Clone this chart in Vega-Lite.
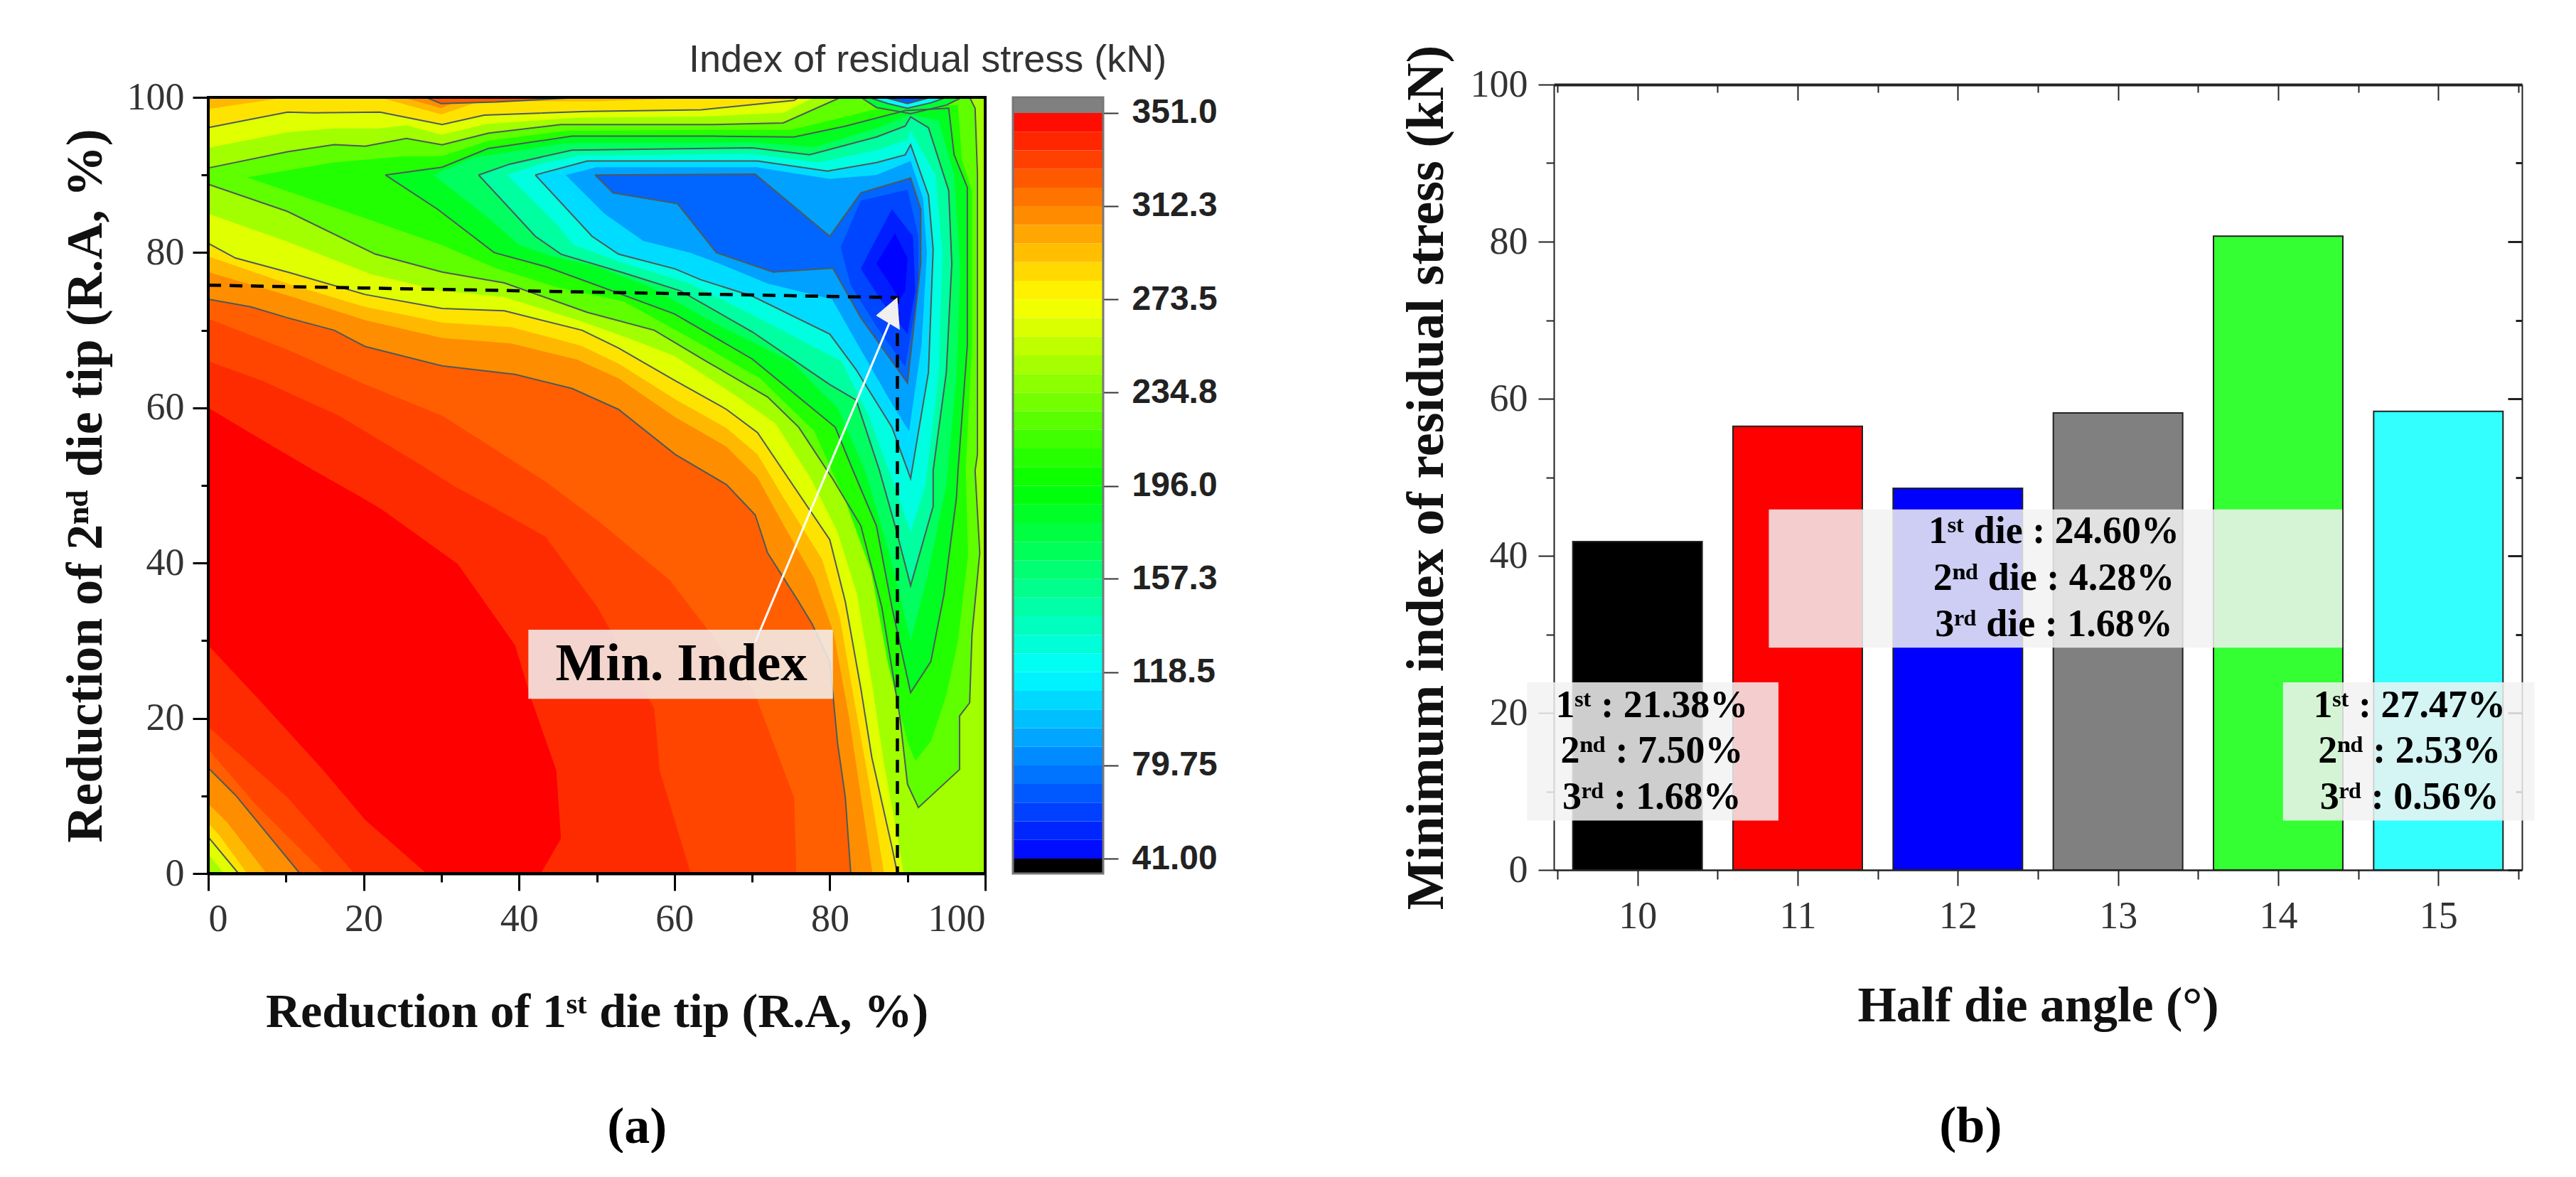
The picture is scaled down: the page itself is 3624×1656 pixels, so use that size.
{"$schema":"https://vega.github.io/schema/vega-lite/v6.json","background":"white","padding":{"left":83,"top":57,"right":0,"bottom":0},"bounds":"flush","spacing":39,
"config":{"view":{"stroke":null},"axis":{"grid":false,"labelFont":"Liberation Serif","titleFont":"Liberation Serif","labelColor":"#333333","titleColor":"#111111"}},
"datasets":{"poly":[
{"p":1,"v":351,"x":0,"y":0},{"p":1,"v":351,"x":100,"y":0},{"p":1,"v":351,"x":100,"y":100},{"p":1,"v":351,"x":0,"y":100},
{"p":2,"v":338,"x":0,"y":60},{"p":2,"v":338,"x":5,"y":57},{"p":2,"v":338,"x":13.5,"y":52},{"p":2,"v":338,"x":18.8,"y":49},{"p":2,"v":338,"x":22.2,"y":47},{"p":2,"v":338,"x":32.1,"y":39.9},{"p":2,"v":338,"x":39.5,"y":29.4},{"p":2,"v":338,"x":41.5,"y":22.7},{"p":2,"v":338,"x":44.8,"y":13.3},{"p":2,"v":338,"x":45.4,"y":4.5},{"p":2,"v":338,"x":42.8,"y":0},{"p":2,"v":338,"x":100,"y":0},{"p":2,"v":338,"x":100,"y":100},{"p":2,"v":338,"x":0,"y":100},
{"p":3,"v":338,"x":0,"y":29.4},{"p":3,"v":338,"x":6.9,"y":22},{"p":3,"v":338,"x":14.8,"y":13.3},{"p":3,"v":338,"x":20.2,"y":6.9},{"p":3,"v":338,"x":28.1,"y":0},{"p":3,"v":338,"x":0,"y":0},
{"p":4,"v":330,"x":0,"y":66},{"p":4,"v":330,"x":6.9,"y":63.5},{"p":4,"v":330,"x":16.8,"y":59},{"p":4,"v":330,"x":26.8,"y":53},{"p":4,"v":330,"x":31.5,"y":50},{"p":4,"v":330,"x":36.1,"y":47.5},{"p":4,"v":330,"x":43.4,"y":43.4},{"p":4,"v":330,"x":50.1,"y":34.3},{"p":4,"v":330,"x":57.4,"y":21.3},{"p":4,"v":330,"x":58.1,"y":13.3},{"p":4,"v":330,"x":62.1,"y":0},{"p":4,"v":330,"x":100,"y":0},{"p":4,"v":330,"x":100,"y":100},{"p":4,"v":330,"x":0,"y":100},
{"p":5,"v":330,"x":0,"y":18.9},{"p":5,"v":330,"x":10.2,"y":9.8},{"p":5,"v":330,"x":18.8,"y":0},{"p":5,"v":330,"x":0,"y":0},
{"p":6,"v":322,"x":0,"y":71.5},{"p":6,"v":322,"x":10.2,"y":67.5},{"p":6,"v":322,"x":20.2,"y":63},{"p":6,"v":322,"x":30.1,"y":59},{"p":6,"v":322,"x":39.5,"y":53},{"p":6,"v":322,"x":43.4,"y":50.5},{"p":6,"v":322,"x":50.1,"y":45.5},{"p":6,"v":322,"x":59.4,"y":37.8},{"p":6,"v":322,"x":70.1,"y":23.8},{"p":6,"v":322,"x":75.4,"y":9.8},{"p":6,"v":322,"x":75.7,"y":0},{"p":6,"v":322,"x":100,"y":0},{"p":6,"v":322,"x":100,"y":100},{"p":6,"v":322,"x":0,"y":100},
{"p":7,"v":322,"x":0,"y":16},{"p":7,"v":322,"x":6,"y":9},{"p":7,"v":322,"x":15,"y":0},{"p":7,"v":322,"x":0,"y":0},
{"p":8,"v":308,"x":0,"y":74},{"p":8,"v":308,"x":5.5,"y":73},{"p":8,"v":308,"x":10.2,"y":71.6},{"p":8,"v":308,"x":16.2,"y":70},{"p":8,"v":308,"x":20.2,"y":67.9},{"p":8,"v":308,"x":30.1,"y":65.4},{"p":8,"v":308,"x":39.5,"y":64.3},{"p":8,"v":308,"x":46.8,"y":62.5},{"p":8,"v":308,"x":52.8,"y":59.8},{"p":8,"v":308,"x":60.1,"y":54},{"p":8,"v":308,"x":66.7,"y":50.1},{"p":8,"v":308,"x":70.4,"y":46.2},{"p":8,"v":308,"x":72,"y":41.3},{"p":8,"v":308,"x":76,"y":35},{"p":8,"v":308,"x":77.7,"y":32.2},{"p":8,"v":308,"x":80,"y":27.3},{"p":8,"v":308,"x":81,"y":16.8},{"p":8,"v":308,"x":82,"y":9.8},{"p":8,"v":308,"x":82.7,"y":0},{"p":8,"v":308,"x":100,"y":0},{"p":8,"v":308,"x":100,"y":100},{"p":8,"v":308,"x":0,"y":100},{"p":8,"v":308,"x":0,"y":74},
{"p":9,"v":308,"x":0,"y":13.6},{"p":9,"v":308,"x":3.5,"y":10.1},{"p":9,"v":308,"x":11.8,"y":0},{"p":9,"v":308,"x":0,"y":0},{"p":9,"v":308,"x":0,"y":13.6},
{"p":10,"v":295,"x":0,"y":77.5},{"p":10,"v":295,"x":5,"y":76},{"p":10,"v":295,"x":10.2,"y":74.5},{"p":10,"v":295,"x":20.2,"y":71.3},{"p":10,"v":295,"x":30.1,"y":69},{"p":10,"v":295,"x":39,"y":68.3},{"p":10,"v":295,"x":47.5,"y":66.2},{"p":10,"v":295,"x":52.8,"y":63.8},{"p":10,"v":295,"x":60.1,"y":58.8},{"p":10,"v":295,"x":66.7,"y":55},{"p":10,"v":295,"x":70.7,"y":51},{"p":10,"v":295,"x":74,"y":45},{"p":10,"v":295,"x":78,"y":38},{"p":10,"v":295,"x":80.5,"y":31},{"p":10,"v":295,"x":82.5,"y":20},{"p":10,"v":295,"x":84,"y":10},{"p":10,"v":295,"x":85.5,"y":0},{"p":10,"v":295,"x":100,"y":0},{"p":10,"v":295,"x":100,"y":100},{"p":10,"v":295,"x":33,"y":100},{"p":10,"v":295,"x":30,"y":98.6},{"p":10,"v":295,"x":25,"y":100},{"p":10,"v":295,"x":0,"y":100},
{"p":11,"v":295,"x":0,"y":9},{"p":11,"v":295,"x":2.5,"y":6.5},{"p":11,"v":295,"x":7.5,"y":0},{"p":11,"v":295,"x":0,"y":0},
{"p":12,"v":282,"x":0,"y":98.5},{"p":12,"v":282,"x":10,"y":100},{"p":12,"v":282,"x":22,"y":100},{"p":12,"v":282,"x":30,"y":97.8},{"p":12,"v":282,"x":35,"y":99.5},{"p":12,"v":282,"x":50,"y":99.5},{"p":12,"v":282,"x":65,"y":100},{"p":12,"v":282,"x":100,"y":100},{"p":12,"v":282,"x":100,"y":0},{"p":12,"v":282,"x":87,"y":0},{"p":12,"v":282,"x":85,"y":12},{"p":12,"v":282,"x":83.2,"y":22},{"p":12,"v":282,"x":81.3,"y":33},{"p":12,"v":282,"x":79,"y":40.5},{"p":12,"v":282,"x":74,"y":48.5},{"p":12,"v":282,"x":70.7,"y":54},{"p":12,"v":282,"x":66.7,"y":57.4},{"p":12,"v":282,"x":60.1,"y":61.1},{"p":12,"v":282,"x":52.8,"y":65.7},{"p":12,"v":282,"x":48,"y":68},{"p":12,"v":282,"x":39,"y":70.4},{"p":12,"v":282,"x":30.1,"y":71},{"p":12,"v":282,"x":20.2,"y":73},{"p":12,"v":282,"x":10.2,"y":76},{"p":12,"v":282,"x":5,"y":77.8},{"p":12,"v":282,"x":0,"y":79.5},
{"p":13,"v":282,"x":0,"y":6.5},{"p":13,"v":282,"x":1.5,"y":4.8},{"p":13,"v":282,"x":5,"y":0},{"p":13,"v":282,"x":0,"y":0},
{"p":14,"v":264,"x":0,"y":96.1},{"p":14,"v":264,"x":10.2,"y":98.1},{"p":14,"v":264,"x":13.5,"y":98},{"p":14,"v":264,"x":22.1,"y":98.1},{"p":14,"v":264,"x":30.1,"y":96.5},{"p":14,"v":264,"x":35.5,"y":97.7},{"p":14,"v":264,"x":48.8,"y":98.2},{"p":14,"v":264,"x":63.4,"y":98.4},{"p":14,"v":264,"x":75.4,"y":99.6},{"p":14,"v":264,"x":76,"y":100},{"p":14,"v":264,"x":100,"y":100},{"p":14,"v":264,"x":100,"y":0},{"p":14,"v":264,"x":88.7,"y":0},{"p":14,"v":264,"x":88,"y":3.4},{"p":14,"v":264,"x":85.4,"y":15},{"p":14,"v":264,"x":84,"y":23.8},{"p":14,"v":264,"x":82,"y":35},{"p":14,"v":264,"x":80,"y":43},{"p":14,"v":264,"x":74,"y":51.9},{"p":14,"v":264,"x":70.7,"y":56.8},{"p":14,"v":264,"x":66.7,"y":59.8},{"p":14,"v":264,"x":60.1,"y":63.5},{"p":14,"v":264,"x":52.8,"y":67.7},{"p":14,"v":264,"x":48.1,"y":70},{"p":14,"v":264,"x":38.1,"y":72.5},{"p":14,"v":264,"x":30.1,"y":72.8},{"p":14,"v":264,"x":20.2,"y":74.6},{"p":14,"v":264,"x":10.2,"y":77.5},{"p":14,"v":264,"x":3.5,"y":79.3},{"p":14,"v":264,"x":0,"y":81.2},{"p":14,"v":264,"x":0,"y":96.1},
{"p":15,"v":264,"x":0,"y":4.7},{"p":15,"v":264,"x":3.9,"y":0},{"p":15,"v":264,"x":0,"y":0},{"p":15,"v":264,"x":0,"y":4.7},
{"p":16,"v":245,"x":0,"y":93.5},{"p":16,"v":245,"x":10.2,"y":95.5},{"p":16,"v":245,"x":16,"y":96},{"p":16,"v":245,"x":22,"y":96},{"p":16,"v":245,"x":25.5,"y":96.4},{"p":16,"v":245,"x":30,"y":95.2},{"p":16,"v":245,"x":36,"y":96.6},{"p":16,"v":245,"x":48,"y":97.4},{"p":16,"v":245,"x":63,"y":97.5},{"p":16,"v":245,"x":74,"y":98},{"p":16,"v":245,"x":78,"y":100},{"p":16,"v":245,"x":100,"y":100},{"p":16,"v":245,"x":100,"y":0},{"p":16,"v":245,"x":89.5,"y":0},{"p":16,"v":245,"x":88.5,"y":6},{"p":16,"v":245,"x":87,"y":14},{"p":16,"v":245,"x":85.5,"y":24},{"p":16,"v":245,"x":83.5,"y":36},{"p":16,"v":245,"x":81,"y":44},{"p":16,"v":245,"x":77.5,"y":51},{"p":16,"v":245,"x":73,"y":58},{"p":16,"v":245,"x":68,"y":61.5},{"p":16,"v":245,"x":60,"y":66.7},{"p":16,"v":245,"x":54,"y":69},{"p":16,"v":245,"x":48.5,"y":71},{"p":16,"v":245,"x":38,"y":74.3},{"p":16,"v":245,"x":30,"y":75.1},{"p":16,"v":245,"x":21,"y":77.2},{"p":16,"v":245,"x":10.2,"y":81.4},{"p":16,"v":245,"x":0,"y":85},
{"p":17,"v":245,"x":0,"y":2.5},{"p":17,"v":245,"x":2,"y":0},{"p":17,"v":245,"x":0,"y":0},
{"p":18,"v":225,"x":0,"y":90.9},{"p":18,"v":225,"x":10.2,"y":93},{"p":18,"v":225,"x":16.2,"y":93.9},{"p":18,"v":225,"x":20.2,"y":93.7},{"p":18,"v":225,"x":25.5,"y":94.7},{"p":18,"v":225,"x":30.1,"y":93.9},{"p":18,"v":225,"x":36.1,"y":95.4},{"p":18,"v":225,"x":45.4,"y":96.5},{"p":18,"v":225,"x":54.9,"y":96.5},{"p":18,"v":225,"x":65,"y":96.5},{"p":18,"v":225,"x":74,"y":96.7},{"p":18,"v":225,"x":81.4,"y":100},{"p":18,"v":225,"x":98,"y":100},{"p":18,"v":225,"x":98.7,"y":98.6},{"p":18,"v":225,"x":99,"y":90.2},{"p":18,"v":225,"x":99,"y":54},{"p":18,"v":225,"x":98.7,"y":51.9},{"p":18,"v":225,"x":99.3,"y":41.3},{"p":18,"v":225,"x":98.3,"y":30.8},{"p":18,"v":225,"x":98,"y":22},{"p":18,"v":225,"x":96.7,"y":20.3},{"p":18,"v":225,"x":96.7,"y":13.4},{"p":18,"v":225,"x":91.4,"y":8.5},{"p":18,"v":225,"x":90,"y":11.5},{"p":18,"v":225,"x":89,"y":20.3},{"p":18,"v":225,"x":86.7,"y":34.3},{"p":18,"v":225,"x":84,"y":44.8},{"p":18,"v":225,"x":80.4,"y":50.8},{"p":18,"v":225,"x":76,"y":57.5},{"p":18,"v":225,"x":72,"y":61.4},{"p":18,"v":225,"x":64.1,"y":66},{"p":18,"v":225,"x":57.4,"y":70},{"p":18,"v":225,"x":48.8,"y":72.3},{"p":18,"v":225,"x":38.1,"y":76.1},{"p":18,"v":225,"x":30.1,"y":77.5},{"p":18,"v":225,"x":21.5,"y":79.8},{"p":18,"v":225,"x":10.2,"y":85.3},{"p":18,"v":225,"x":0,"y":88.8},{"p":18,"v":225,"x":0,"y":90.9},
{"p":19,"v":206,"x":5,"y":89.7},{"p":19,"v":206,"x":16,"y":91.6},{"p":19,"v":206,"x":25,"y":92.4},{"p":19,"v":206,"x":30,"y":92.4},{"p":19,"v":206,"x":36,"y":94.4},{"p":19,"v":206,"x":46,"y":95.7},{"p":19,"v":206,"x":65,"y":95.8},{"p":19,"v":206,"x":75,"y":95.8},{"p":19,"v":206,"x":82,"y":97.5},{"p":19,"v":206,"x":88,"y":99},{"p":19,"v":206,"x":96.5,"y":99},{"p":19,"v":206,"x":97,"y":92},{"p":19,"v":206,"x":98.3,"y":88},{"p":19,"v":206,"x":98.3,"y":68},{"p":19,"v":206,"x":97.5,"y":52},{"p":19,"v":206,"x":97.8,"y":41},{"p":19,"v":206,"x":96.5,"y":30},{"p":19,"v":206,"x":95,"y":23},{"p":19,"v":206,"x":93,"y":17},{"p":19,"v":206,"x":91,"y":14.5},{"p":19,"v":206,"x":90,"y":17},{"p":19,"v":206,"x":87.5,"y":27},{"p":19,"v":206,"x":85.3,"y":39},{"p":19,"v":206,"x":82,"y":48},{"p":19,"v":206,"x":78,"y":57},{"p":19,"v":206,"x":71,"y":63.8},{"p":19,"v":206,"x":62,"y":69},{"p":19,"v":206,"x":53.5,"y":73.7},{"p":19,"v":206,"x":45,"y":75.5},{"p":19,"v":206,"x":37,"y":78},{"p":19,"v":206,"x":30,"y":81},{"p":19,"v":206,"x":20,"y":84.5},{"p":19,"v":206,"x":12,"y":87.3},
{"p":20,"v":186,"x":22.8,"y":90},{"p":20,"v":186,"x":30.1,"y":91},{"p":20,"v":186,"x":36,"y":93.4},{"p":20,"v":186,"x":46.8,"y":95},{"p":20,"v":186,"x":65,"y":95},{"p":20,"v":186,"x":75.4,"y":94.9},{"p":20,"v":186,"x":82,"y":96.3},{"p":20,"v":186,"x":89.7,"y":98.3},{"p":20,"v":186,"x":95.3,"y":98.6},{"p":20,"v":186,"x":96,"y":92.6},{"p":20,"v":186,"x":97.7,"y":88.4},{"p":20,"v":186,"x":97.7,"y":68},{"p":20,"v":186,"x":96.5,"y":51.9},{"p":20,"v":186,"x":96.3,"y":48.4},{"p":20,"v":186,"x":94.7,"y":36},{"p":20,"v":186,"x":93,"y":27.3},{"p":20,"v":186,"x":90.4,"y":23.3},{"p":20,"v":186,"x":88,"y":34.3},{"p":20,"v":186,"x":86,"y":44.8},{"p":20,"v":186,"x":83,"y":51.9},{"p":20,"v":186,"x":80.7,"y":57.5},{"p":20,"v":186,"x":70,"y":66.3},{"p":20,"v":186,"x":60,"y":72.1},{"p":20,"v":186,"x":50,"y":75.8},{"p":20,"v":186,"x":43.4,"y":78.2},{"p":20,"v":186,"x":36.8,"y":80},{"p":20,"v":186,"x":29.5,"y":85.6},{"p":20,"v":186,"x":22.8,"y":90},
{"p":21,"v":167,"x":29,"y":90},{"p":21,"v":167,"x":34,"y":92.2},{"p":21,"v":167,"x":46,"y":94.1},{"p":21,"v":167,"x":70,"y":94.2},{"p":21,"v":167,"x":78,"y":93.6},{"p":21,"v":167,"x":86,"y":96},{"p":21,"v":167,"x":90.4,"y":97.8},{"p":21,"v":167,"x":94,"y":97},{"p":21,"v":167,"x":96,"y":90},{"p":21,"v":167,"x":96.8,"y":78},{"p":21,"v":167,"x":96.3,"y":64},{"p":21,"v":167,"x":95,"y":50},{"p":21,"v":167,"x":92.5,"y":38},{"p":21,"v":167,"x":90.4,"y":30},{"p":21,"v":167,"x":88.5,"y":38},{"p":21,"v":167,"x":86.3,"y":46},{"p":21,"v":167,"x":84.5,"y":52},{"p":21,"v":167,"x":81,"y":60},{"p":21,"v":167,"x":75,"y":66},{"p":21,"v":167,"x":65,"y":71},{"p":21,"v":167,"x":57,"y":75.5},{"p":21,"v":167,"x":50,"y":78.2},{"p":21,"v":167,"x":44,"y":79.6},{"p":21,"v":167,"x":40,"y":81},{"p":21,"v":167,"x":36,"y":84.5},
{"p":22,"v":147,"x":34.8,"y":90},{"p":22,"v":147,"x":38.8,"y":91.4},{"p":22,"v":147,"x":46.8,"y":93.2},{"p":22,"v":147,"x":70,"y":93.5},{"p":22,"v":147,"x":77.4,"y":92.6},{"p":22,"v":147,"x":86,"y":94.9},{"p":22,"v":147,"x":89.7,"y":96.3},{"p":22,"v":147,"x":90.4,"y":97.5},{"p":22,"v":147,"x":92.7,"y":96.1},{"p":22,"v":147,"x":95.3,"y":88},{"p":22,"v":147,"x":95.7,"y":78.6},{"p":22,"v":147,"x":95,"y":64.6},{"p":22,"v":147,"x":93.3,"y":51.9},{"p":22,"v":147,"x":93.3,"y":47.3},{"p":22,"v":147,"x":90.4,"y":37.1},{"p":22,"v":147,"x":88.4,"y":44.8},{"p":22,"v":147,"x":86.4,"y":51.9},{"p":22,"v":147,"x":83.4,"y":61},{"p":22,"v":147,"x":80,"y":63},{"p":22,"v":147,"x":70,"y":69.8},{"p":22,"v":147,"x":60.7,"y":75.1},{"p":22,"v":147,"x":53.4,"y":77.4},{"p":22,"v":147,"x":45.4,"y":79.8},{"p":22,"v":147,"x":42.1,"y":82.1},{"p":22,"v":147,"x":34.8,"y":90},
{"p":23,"v":128,"x":38.5,"y":90},{"p":23,"v":128,"x":43,"y":91.5},{"p":23,"v":128,"x":47.8,"y":92.5},{"p":23,"v":128,"x":70,"y":92.7},{"p":23,"v":128,"x":78.5,"y":91.6},{"p":23,"v":128,"x":86,"y":93.2},{"p":23,"v":128,"x":90,"y":94.5},{"p":23,"v":128,"x":90.4,"y":95.7},{"p":23,"v":128,"x":93.6,"y":90},{"p":23,"v":128,"x":94.5,"y":80},{"p":23,"v":128,"x":94,"y":64},{"p":23,"v":128,"x":92.3,"y":50},{"p":23,"v":128,"x":90.4,"y":44},{"p":23,"v":128,"x":88.3,"y":50},{"p":23,"v":128,"x":85,"y":59},{"p":23,"v":128,"x":81.5,"y":66},{"p":23,"v":128,"x":70,"y":72},{"p":23,"v":128,"x":62,"y":76},{"p":23,"v":128,"x":53,"y":78.8},{"p":23,"v":128,"x":47,"y":81},{"p":23,"v":128,"x":45,"y":83.5},
{"p":24,"v":108,"x":42.1,"y":90},{"p":24,"v":108,"x":48.8,"y":91.8},{"p":24,"v":108,"x":70.7,"y":91.8},{"p":24,"v":108,"x":79.7,"y":90.5},{"p":24,"v":108,"x":86,"y":91.6},{"p":24,"v":108,"x":89.7,"y":92.6},{"p":24,"v":108,"x":90.4,"y":93.9},{"p":24,"v":108,"x":92.7,"y":87.4},{"p":24,"v":108,"x":93.3,"y":80.4},{"p":24,"v":108,"x":92.7,"y":64.6},{"p":24,"v":108,"x":90.4,"y":50.9},{"p":24,"v":108,"x":88,"y":57.5},{"p":24,"v":108,"x":83.4,"y":64.9},{"p":24,"v":108,"x":80,"y":69.5},{"p":24,"v":108,"x":70,"y":74.4},{"p":24,"v":108,"x":63.4,"y":76.5},{"p":24,"v":108,"x":60.1,"y":77.9},{"p":24,"v":108,"x":52.8,"y":79.8},{"p":24,"v":108,"x":49.4,"y":82.1},{"p":24,"v":108,"x":42.1,"y":90},
{"p":25,"v":90,"x":46,"y":90},{"p":25,"v":90,"x":50,"y":91},{"p":25,"v":90,"x":70.5,"y":91},{"p":25,"v":90,"x":80,"y":89.5},{"p":25,"v":90,"x":86,"y":90},{"p":25,"v":90,"x":90.4,"y":91.8},{"p":25,"v":90,"x":92,"y":87},{"p":25,"v":90,"x":92.5,"y":80},{"p":25,"v":90,"x":91.8,"y":68},{"p":25,"v":90,"x":90.2,"y":57},{"p":25,"v":90,"x":88,"y":60.5},{"p":25,"v":90,"x":83.7,"y":68},{"p":25,"v":90,"x":80.3,"y":74},{"p":25,"v":90,"x":72,"y":76},{"p":25,"v":90,"x":66,"y":78.5},{"p":25,"v":90,"x":62,"y":80},{"p":25,"v":90,"x":56,"y":81.5},{"p":25,"v":90,"x":51,"y":85},
{"p":26,"v":72,"x":49.8,"y":90},{"p":26,"v":72,"x":52.1,"y":87.7},{"p":26,"v":72,"x":60.4,"y":86.3},{"p":26,"v":72,"x":65.4,"y":80},{"p":26,"v":72,"x":72.7,"y":77.5},{"p":26,"v":72,"x":80.4,"y":78},{"p":26,"v":72,"x":84,"y":71.6},{"p":26,"v":72,"x":90,"y":63.2},{"p":26,"v":72,"x":91.7,"y":78.6},{"p":26,"v":72,"x":91.7,"y":85.6},{"p":26,"v":72,"x":90.4,"y":89.6},{"p":26,"v":72,"x":84,"y":87.7},{"p":26,"v":72,"x":80,"y":82.1},{"p":26,"v":72,"x":70.4,"y":90.1},{"p":26,"v":72,"x":49.8,"y":90},
{"p":27,"v":62,"x":81.4,"y":80.7},{"p":27,"v":62,"x":84,"y":86.7},{"p":27,"v":62,"x":90,"y":88.1},{"p":27,"v":62,"x":91.4,"y":82.1},{"p":27,"v":62,"x":91.4,"y":75.1},{"p":27,"v":62,"x":89.7,"y":65.3},{"p":27,"v":62,"x":86,"y":70.5},{"p":27,"v":62,"x":82.7,"y":75.8},
{"p":28,"v":50,"x":85.4,"y":80.7},{"p":28,"v":50,"x":88,"y":85.6},{"p":28,"v":50,"x":90.7,"y":82.1},{"p":28,"v":50,"x":91,"y":75.1},{"p":28,"v":50,"x":90,"y":69.5},{"p":28,"v":50,"x":86.7,"y":73.7},{"p":28,"v":50,"x":84,"y":77.9},
{"p":29,"v":42,"x":88.4,"y":82.5},{"p":29,"v":42,"x":90,"y":79.3},{"p":29,"v":42,"x":89.7,"y":75.1},{"p":29,"v":42,"x":89,"y":74},{"p":29,"v":42,"x":86,"y":78.6},
{"p":30,"v":322,"x":28,"y":100},{"p":30,"v":322,"x":30,"y":99.2},{"p":30,"v":322,"x":37,"y":99.4},{"p":30,"v":322,"x":48,"y":100},{"p":30,"v":322,"x":28,"y":100},
{"p":31,"v":180,"x":84,"y":100},{"p":31,"v":180,"x":86,"y":98.7},{"p":31,"v":180,"x":90.4,"y":97.9},{"p":31,"v":180,"x":95,"y":99},{"p":31,"v":180,"x":97,"y":100},{"p":31,"v":180,"x":84,"y":100},
{"p":32,"v":120,"x":85,"y":100},{"p":32,"v":120,"x":87.5,"y":99.2},{"p":32,"v":120,"x":90,"y":98.6},{"p":32,"v":120,"x":93,"y":99.3},{"p":32,"v":120,"x":95,"y":100},{"p":32,"v":120,"x":85,"y":100},
{"p":33,"v":70,"x":87,"y":100},{"p":33,"v":70,"x":90,"y":99.2},{"p":33,"v":70,"x":93,"y":100},{"p":33,"v":70,"x":87,"y":100}
],
"bar":[{"angle":10,"value":41.8},{"angle":11,"value":56.5},{"angle":12,"value":48.6},{"angle":13,"value":58.2},{"angle":14,"value":80.7},{"angle":15,"value":58.4}],
"cbar":[{"lo":41,"hi":48.75},{"lo":48.75,"hi":56.5},{"lo":56.5,"hi":64.25},{"lo":64.25,"hi":72},{"lo":72,"hi":79.75},{"lo":79.75,"hi":87.5},{"lo":87.5,"hi":95.25},{"lo":95.25,"hi":103},{"lo":103,"hi":110.75},{"lo":110.75,"hi":118.5},{"lo":118.5,"hi":126.25},{"lo":126.25,"hi":134},{"lo":134,"hi":141.75},{"lo":141.75,"hi":149.5},{"lo":149.5,"hi":157.25},{"lo":157.25,"hi":165},{"lo":165,"hi":172.75},{"lo":172.75,"hi":180.5},{"lo":180.5,"hi":188.25},{"lo":188.25,"hi":196},{"lo":196,"hi":203.75},{"lo":203.75,"hi":211.5},{"lo":211.5,"hi":219.25},{"lo":219.25,"hi":227},{"lo":227,"hi":234.75},{"lo":234.75,"hi":242.5},{"lo":242.5,"hi":250.25},{"lo":250.25,"hi":258},{"lo":258,"hi":265.75},{"lo":265.75,"hi":273.5},{"lo":273.5,"hi":281.25},{"lo":281.25,"hi":289},{"lo":289,"hi":296.75},{"lo":296.75,"hi":304.5},{"lo":304.5,"hi":312.25},{"lo":312.25,"hi":320},{"lo":320,"hi":327.75},{"lo":327.75,"hi":335.5},{"lo":335.5,"hi":343.25},{"lo":343.25,"hi":351}]},
"hconcat":[
{"width":1093,"height":1110,
"encoding":{"x":{"field":"x","type":"quantitative","scale":{"domain":[0,100],"nice":false,"zero":false},"axis":{"title":"Reduction of 1ˢᵗ die tip (R.A, %)","titleFontSize":68,"titleFontWeight":"bold","titleBaseline":"alphabetic","titleY":215,"values":[0,10,20,30,40,50,60,70,80,90,100],"labelExpr":"datum.value%20===0?datum.label:''","labelFontSize":54,"labelPadding":13,"tickSize":{"expr":"datum.value%20===0?24:12"},"tickWidth":3,"tickColor":"#000000","domainWidth":4,"domainColor":"#000000"}},
"y":{"field":"y","type":"quantitative","scale":{"domain":[0,100],"range":[1110,18],"nice":false,"zero":false},"axis":{"title":"Reduction of 2ⁿᵈ die tip (R.A, %)","titleFontSize":72,"titleFontWeight":"bold","titleBaseline":"alphabetic","titleX":-151,"values":[0,10,20,30,40,50,60,70,80,90,100],"labelExpr":"datum.value%20===0?datum.label:''","labelFontSize":54,"labelPadding":12,"tickSize":{"expr":"datum.value%20===0?22:10"},"tickWidth":3,"tickColor":"#000000","domainWidth":4,"domainColor":"#000000"}}},
"layer":[
{"data":{"name":"poly"},"transform":[{"window":[{"op":"row_number","as":"i"}]}],"mark":{"type":"line","strokeWidth":0,"interpolate":"linear"},"encoding":{"detail":{"field":"p"},"order":{"field":"i","type":"quantitative"},"fill":{"field":"v","type":"quantitative","legend":null,"scale":{"domain":[41,118.5,196,273.5,351],"range":["#0000ff","#00ffff","#00ff00","#ffff00","#ff0000"],"interpolate":"rgb"}}}},
{"data":{"name":"poly"},"transform":[{"window":[{"op":"row_number","as":"i"}]},{"filter":{"field":"p","oneOf":[8,9,14,15,18,20,22,24,26,30,31,32,33]}}],"mark":{"type":"line","color":"#4d5a5a","strokeWidth":2,"interpolate":"linear"},"encoding":{"detail":{"field":"p"},"order":{"field":"i","type":"quantitative"}}},
{"data":{"values":[{"x":0,"x1":100,"y":0,"y1":100}]},"mark":{"type":"rect","fill":"transparent","stroke":"#000000","strokeWidth":4},"encoding":{"x2":{"field":"x1"},"y2":{"field":"y1"}}},
{"data":{"values":[{"x":0,"y":75.8},{"x":88.7,"y":74.2},{"x":88.7,"y":0}]},"transform":[{"window":[{"op":"row_number","as":"i"}]}],"mark":{"type":"line","color":"#000000","strokeWidth":4.5,"strokeDash":[18,12]},"encoding":{"order":{"field":"i","type":"quantitative"}}},
{"data":{"values":[{"x":70.4,"y":29.8},{"x":87.7,"y":71}]},"mark":{"type":"line","color":"#ffffff","strokeWidth":3}},
{"data":{"values":[{"x":88.7,"y":74.2},{"x":86,"y":71.9},{"x":89,"y":70.1}]},"transform":[{"window":[{"op":"row_number","as":"i"}]}],"mark":{"type":"line","fill":"#f0f0f0","stroke":"#f0f0f0","strokeWidth":1},"encoding":{"order":{"field":"i","type":"quantitative"}}},
{"data":{"values":[{"x":41.2,"x1":80.4,"y":31.4,"y1":22.5}]},"mark":{"type":"rect","fill":"#f2f2f2","opacity":0.85},"encoding":{"x2":{"field":"x1"},"y2":{"field":"y1"}}},
{"data":{"values":[{"x":60.9,"y":24.9,"t":"Min. Index"}]},"mark":{"type":"text","font":"Liberation Serif","fontWeight":"bold","fontSize":75,"color":"#000000","align":"center","baseline":"alphabetic"},"encoding":{"text":{"field":"t"}}},
{"data":{"values":[{"x":92.6,"y":103.3,"t":"Index of residual stress (kN)"}]},"mark":{"type":"text","font":"Liberation Sans","fontSize":54,"color":"#333333","align":"center","baseline":"alphabetic"},"encoding":{"text":{"field":"t"}}},
{"data":{"values":[{"x":55.2,"y":-34.7,"t":"(a)"}]},"mark":{"type":"text","font":"Liberation Serif","fontWeight":"bold","fontSize":72,"color":"#000000","align":"center","baseline":"alphabetic"},"encoding":{"text":{"field":"t"}}}
]},
{"width":127,"height":1110,
"encoding":{"y":{"field":"lo","type":"quantitative","scale":{"domain":[34.8,357.5],"range":[1110,18],"nice":false,"zero":false},"axis":{"title":null,"orient":"right","values":[351,312.3,273.5,234.8,196,157.3,118.5,79.75,41],"format":".4r","domain":false,"labelFont":"Liberation Sans","labelFontWeight":"bold","labelFontSize":48,"labelPadding":19,"tickSize":21,"tickWidth":2,"tickColor":"#333333","labelColor":"#222222"}},"y2":{"field":"hi"}},
"layer":[
{"data":{"name":"cbar"},"transform":[{"calculate":"(datum.lo+datum.hi)/2","as":"v"}],"mark":{"type":"rect"},"encoding":{"fill":{"field":"v","type":"quantitative","legend":null,"scale":{"domain":[41,118.5,196,273.5,351],"range":["#0000ff","#00ffff","#00ff00","#ffff00","#ff0000"],"interpolate":"rgb"}}}},
{"data":{"values":[{"lo":351,"hi":357.5}]},"mark":{"type":"rect","color":"#808080"}},
{"data":{"values":[{"lo":34.8,"hi":41}]},"mark":{"type":"rect","color":"#000000"}},
{"data":{"values":[{"lo":34.8,"hi":357.5}]},"mark":{"type":"rect","fill":"transparent","stroke":"#777777","strokeWidth":3}}
]},
{"width":556,"height":1110,"data":{"values":[{"a":0}]},"mark":{"type":"point","opacity":0}},
{"width":1362,"height":1110,
"resolve":{"axis":{"x":"independent","y":"independent"}},
"layer":[
{"data":{"name":"bar"},"mark":{"type":"bar","size":182,"stroke":"#222222","strokeWidth":2},"encoding":{
"x":{"field":"angle","type":"quantitative","scale":{"domain":[9.5,15.5],"nice":false,"zero":false},"axis":{"title":"Half die angle (°)","titleFontSize":70,"titleFontWeight":"bold","titleBaseline":"alphabetic","titleY":212,"offset":-5,"values":[9.5,10,10.5,11,11.5,12,12.5,13,13.5,14,14.5,15,15.5],"labelExpr":"datum.value%1===0?''+datum.value:''","labelFontSize":54,"labelPadding":16,"tickSize":{"expr":"datum.value%1===0?22:13"},"tickWidth":2,"tickColor":"#222222","domainWidth":2.5,"domainColor":"#222222"}},
"y":{"field":"value","type":"quantitative","scale":{"domain":[0,100],"range":[1105,0],"nice":false,"zero":false},"axis":{"title":"Minimum index of residual stress (kN)","titleFontSize":74,"titleFontWeight":"bold","titleBaseline":"alphabetic","titleX":-157,"values":[0,10,20,30,40,50,60,70,80,90,100],"labelExpr":"datum.value%20===0?datum.label:''","labelFontSize":54,"labelPadding":15,"tickSize":{"expr":"datum.value%20===0?22:11"},"tickWidth":2,"tickColor":"#222222","domainWidth":2,"domainColor":"#222222"}},
"fill":{"field":"angle","type":"nominal","legend":null,"scale":{"domain":[10,11,12,13,14,15],"range":["#000000","#ff0000","#0000ff","#808080","#33ff33","#33ffff"]}}}},
{"data":{"values":[{"x":9.31,"x1":10.88,"y":23.9,"y1":6.3},{"x":10.82,"x1":14.4,"y":45.9,"y1":28.3},{"x":14.03,"x1":15.6,"y":23.9,"y1":6.3}]},"mark":{"type":"rect","fill":"#f2f2f2","opacity":0.85,"stroke":null},"encoding":{
"x":{"field":"x","type":"quantitative","scale":{"domain":[9.5,15.5],"nice":false,"zero":false},"axis":{"title":null,"orient":"top","values":[9.5,10,10.5,11,11.5,12,12.5,13,13.5,14,14.5,15,15.5],"labels":false,"tickSize":{"expr":"datum.value%1===0?-22:-11"},"tickWidth":2,"tickColor":"#222222","domainWidth":4,"domainColor":"#222222"}},"x2":{"field":"x1"},
"y":{"field":"y","type":"quantitative","scale":{"domain":[0,100],"range":[1105,0],"nice":false,"zero":false},"axis":{"title":null,"orient":"right","values":[0,10,20,30,40,50,60,70,80,90,100],"labels":false,"tickSize":{"expr":"datum.value%20===0?-20:-9"},"tickWidth":3,"tickColor":"#222222","domainWidth":2,"domainColor":"#222222"}},"y2":{"field":"y1"}}},
{"data":{"values":[{"x":12.6,"y":41.6,"t":"1ˢᵗ die : 24.60%"},{"x":12.6,"y":35.7,"t":"2ⁿᵈ die : 4.28%"},{"x":12.6,"y":29.8,"t":"3ʳᵈ die : 1.68%"},{"x":10.09,"y":19.5,"t":"1ˢᵗ : 21.38%"},{"x":10.09,"y":13.7,"t":"2ⁿᵈ : 7.50%"},{"x":10.09,"y":7.8,"t":"3ʳᵈ : 1.68%"},{"x":14.82,"y":19.5,"t":"1ˢᵗ : 27.47%"},{"x":14.82,"y":13.7,"t":"2ⁿᵈ : 2.53%"},{"x":14.82,"y":7.8,"t":"3ʳᵈ : 0.56%"}]},"mark":{"type":"text","font":"Liberation Serif","fontWeight":"bold","fontSize":54,"color":"#000000","align":"center","baseline":"alphabetic"},"encoding":{
"x":{"field":"x","type":"quantitative","scale":{"domain":[9.5,15.5],"nice":false,"zero":false},"axis":null},
"y":{"field":"y","type":"quantitative","scale":{"domain":[0,100],"range":[1105,0],"nice":false,"zero":false},"axis":null},"text":{"field":"t"}}},
{"data":{"values":[{"x":12.08,"y":-34.7,"t":"(b)"}]},"mark":{"type":"text","font":"Liberation Serif","fontWeight":"bold","fontSize":72,"color":"#000000","align":"center","baseline":"alphabetic"},"encoding":{
"x":{"field":"x","type":"quantitative","scale":{"domain":[9.5,15.5],"nice":false,"zero":false},"axis":null},
"y":{"field":"y","type":"quantitative","scale":{"domain":[0,100],"range":[1105,0],"nice":false,"zero":false},"axis":null},"text":{"field":"t"}}}
]}
]}
